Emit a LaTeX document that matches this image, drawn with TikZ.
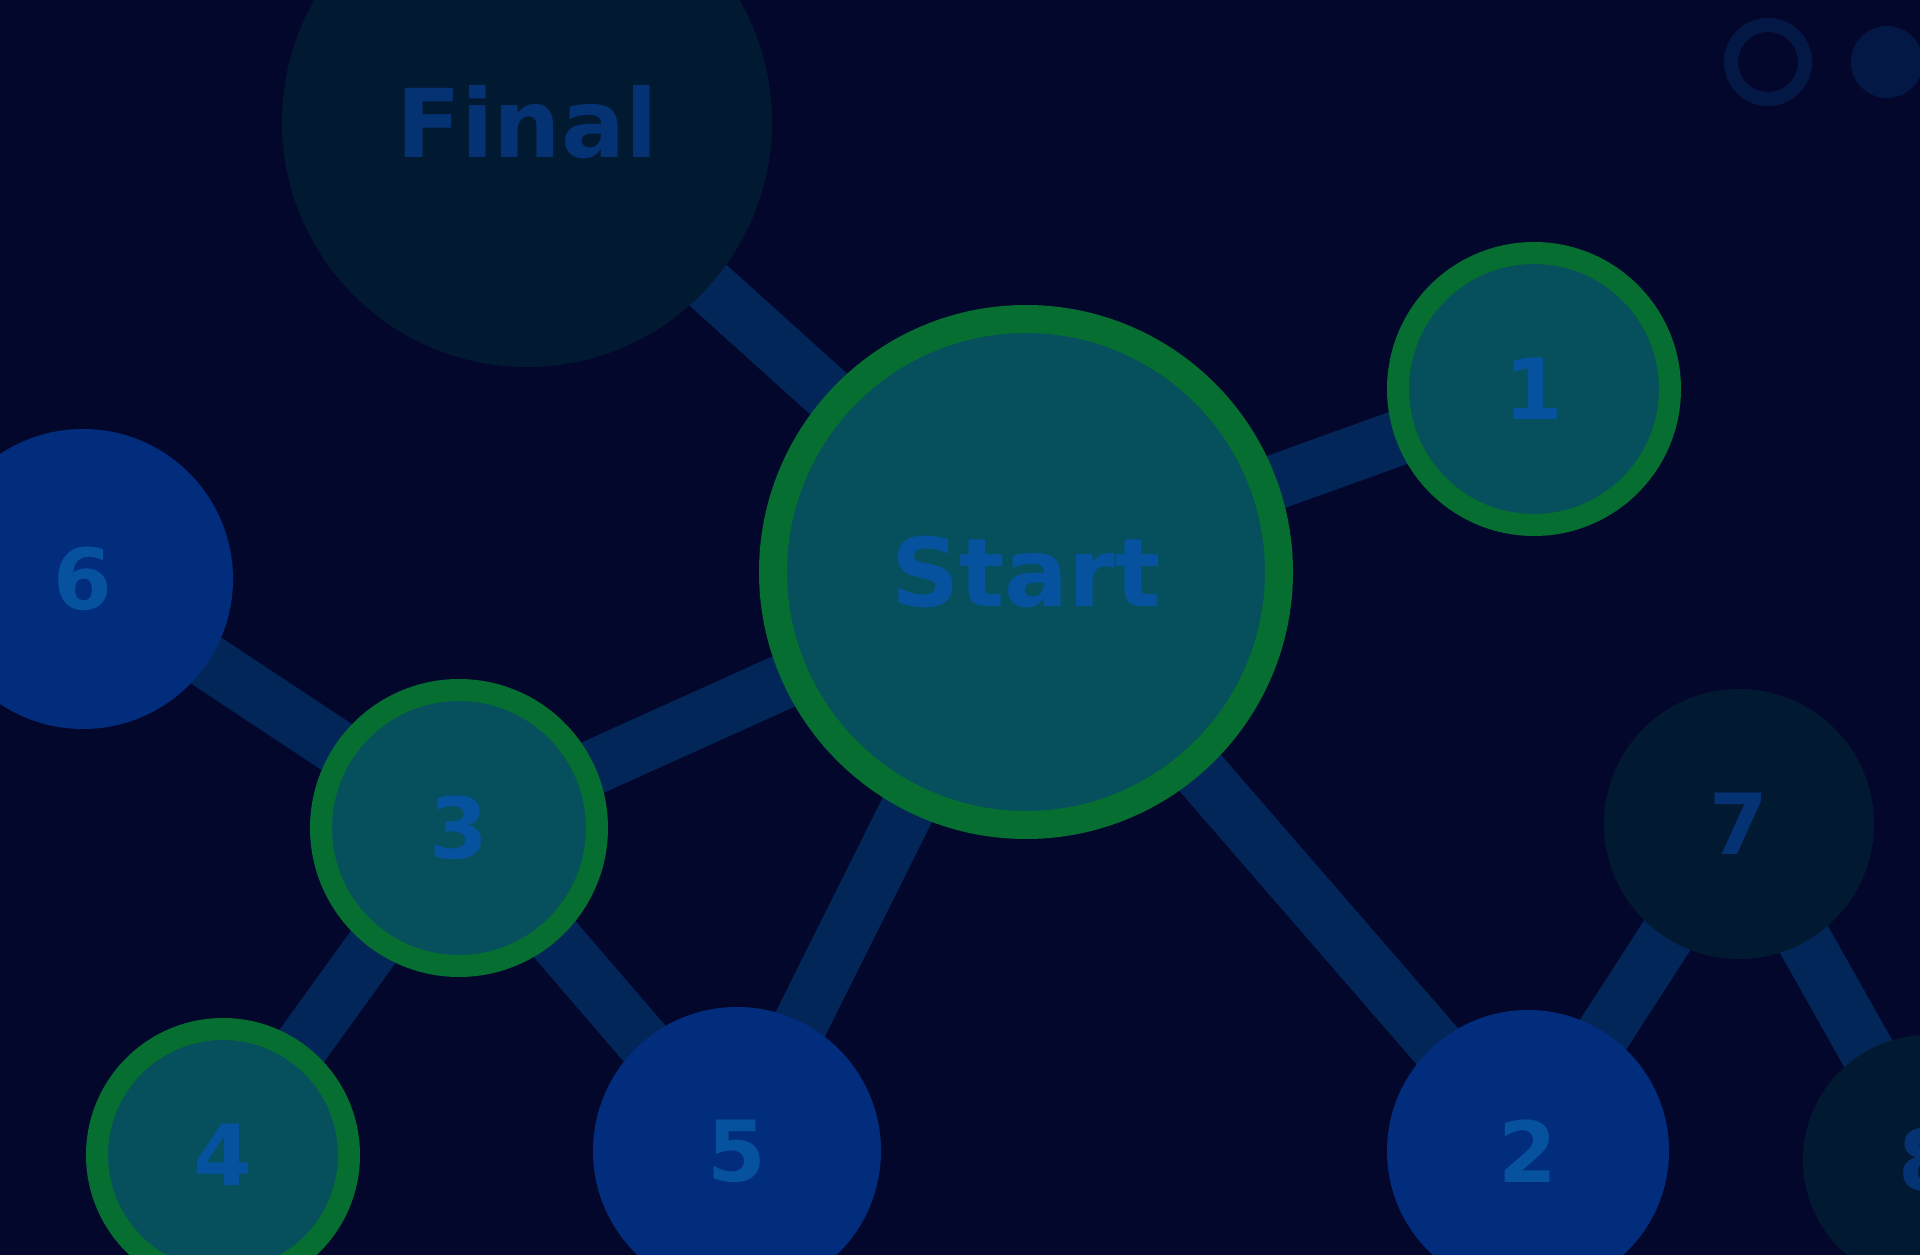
\documentclass[tikz,border=0pt]{standalone}
\usepackage{fontspec}
\setmainfont{DejaVu Sans}
\usepackage{tikz}
\usetikzlibrary{backgrounds}
\definecolor{gbnavy}{RGB}{4, 7, 44}
\definecolor{gbgreen}{RGB}{6, 110, 48}
\definecolor{gbteal}{RGB}{5, 80, 92}
\definecolor{gbblue}{RGB}{2, 45, 125}
\definecolor{gbdark}{RGB}{2, 25, 50}
\definecolor{gbedge}{RGB}{3, 38, 88}
\definecolor{gbtext}{RGB}{6, 82, 158}
\definecolor{gbdimtext}{RGB}{4, 50, 115}
\definecolor{gbdot}{RGB}{4, 24, 70}

\begin{document}
\begin{tikzpicture}[x=0.1mm, y=-0.1mm,
		every node/.style={circle, inner sep=0pt, font=\bfseries\fontsize{24}{28}\selectfont},
		visited/.style={fill=gbteal, draw=gbgreen, line width=2.2mm, text=gbtext},
		open/.style={fill=gbblue, text=gbtext},
		hidden/.style={fill=gbdark, text=gbdimtext},
		link/.style={gbedge, line width=5.5mm}]
			\useasboundingbox (0, 0) rectangle (1920, 1255);
			\clip (0, 0) rectangle (1920, 1255);
			\node [visited, line width=2.8mm, minimum size=50.6mm, font=\bfseries\fontsize{27}{30}\selectfont] (start) at (1026, 572) {Start};
			\node [hidden, minimum size=49mm, font=\bfseries\fontsize{27}{30}\selectfont] (final) at (527, 122) {Final};
			\node [visited, minimum size=27.2mm] (n1) at (1534, 389) {1};
			\node [open, minimum size=28.2mm] (n2) at (1528, 1151) {2};
			\node [visited, minimum size=27.6mm] (n3) at (459, 828) {3};
			\node [visited, minimum size=25.2mm] (n4) at (223, 1155) {4};
			\node [open, minimum size=28.8mm] (n5) at (737, 1151) {5};
			\node [open, minimum size=30mm] (n6) at (83, 579) {6};
			\node [hidden, minimum size=27mm] (n7) at (1739, 824) {7};
			\node [hidden, minimum size=25mm] (n8) at (1928, 1160) {8};
			\node [draw=gbdot, fill=gbnavy, line width=1.4mm, minimum size=7.4mm] (dotA) at (1768, 62) {};
			\node [fill=gbdot, minimum size=7.2mm] (dotB) at (1887, 62) {};
			\begin{scope}[on background layer]
				\fill [gbnavy] (0, 0) rectangle (1920, 1255);
				\draw [link] (final.center) -- (start.center);
				\draw [link] (start.center) -- (n1.center);
				\draw [link] (start.center) -- (n3.center);
				\draw [link] (start.center) -- (n5.center);
				\draw [link] (start.center) -- (n2.center);
				\draw [link] (n6.center) -- (n3.center);
				\draw [link] (n3.center) -- (n4.center);
				\draw [link] (n3.center) -- (n5.center);
				\draw [link] (n2.center) -- (n7.center);
				\draw [link] (n7.center) -- (n8.center);
			\end{scope}
		\end{tikzpicture}
\end{document}
